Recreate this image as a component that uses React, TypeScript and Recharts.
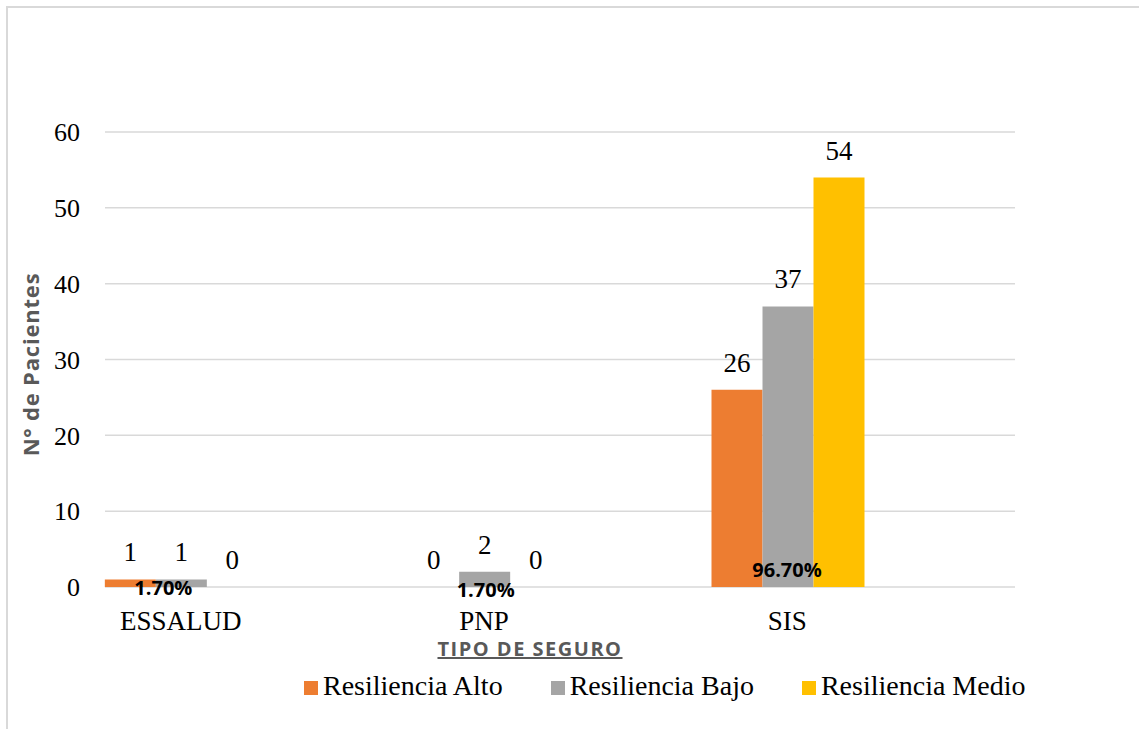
import { BarChart, Bar, XAxis, YAxis, CartesianGrid, Legend, LabelList } from 'recharts'

const categories = ['ESSALUD', 'PNP', 'SIS']
const altoValues = [1, 0, 26]
const bajoValues = [1, 2, 37]
const medioValues = [0, 0, 54]
const pctLabels = ['1.70%', '1.70%', '96.70%']
const yTicks = [0, 10, 20, 30, 40, 50, 60]

const data = categories.map((tipo, i) => ({
  tipo,
  alto: altoValues[i],
  bajo: bajoValues[i],
  medio: medioValues[i],
  pct: pctLabels[i],
}))

const SERIF = '"Liberation Serif", "Times New Roman", serif'
const SANS = '"Open Sans", "Noto Sans", sans-serif'

// nudges for the percentage annotations (per category)
const PCT_DX = [-18, 1, -1]
const PCT_DY = [8, 10, -10]

function PctLabel(props: any) {
  const { value, index } = props
  const vb = props.viewBox ?? props
  const bottom = vb.y + vb.height
  const cx = vb.x - vb.width / 2 + PCT_DX[index]
  return (
    <text x={cx} y={bottom + PCT_DY[index]} textAnchor="middle" fontFamily={SANS} fontWeight={700} fontSize={20} fill="#000">
      {value}
    </text>
  )
}

function LegendContent(props: any) {
  const { payload = [] } = props
  return (
    <div style={{ display: 'flex', alignItems: 'center', fontFamily: SERIF, fontSize: 28, color: '#000', height: 32 }}>
      {payload.map((p: any, i: number) => (
        <span key={p.value} style={{ display: 'flex', alignItems: 'center', marginLeft: i === 0 ? 0 : 48 }}>
          <span style={{ width: 14, height: 14, background: p.color, display: 'inline-block', marginRight: 5, marginTop: 4 }} />
          {p.value}
        </span>
      ))}
    </div>
  )
}

export default function App() {
  return (
    <div style={{ position: 'absolute', left: 0, top: 0, width: 1139, height: 729, overflow: 'hidden', background: '#fff' }}>
      <div style={{ position: 'absolute', left: 6, top: 6, width: 1200, height: 800, border: '2px solid #d9d9d9' }} />
      <div style={{ position: 'absolute', left: 0, top: 0 }}>
        <BarChart
          width={1139}
          height={729}
          data={data}
          margin={{ top: 132, right: 124, left: 0, bottom: 50 }}
          barCategoryGap="25%"
          barGap={0}
        >
          <CartesianGrid vertical={false} stroke="#d9d9d9" strokeWidth={1.5} />
          <YAxis
            width={105}
            domain={[0, 60]}
            ticks={yTicks}
            axisLine={false}
            tickLine={false}
            tickSize={0}
            tickMargin={25}
            tick={{ fontFamily: SERIF, fontSize: 26, fill: '#000' }}
            label={{
              content: ({ viewBox }: any) => (
                <text
                  x={30}
                  y={viewBox.y + viewBox.height / 2 + 5}
                  transform={`rotate(-90, 30, ${viewBox.y + viewBox.height / 2 + 5})`}
                  textAnchor="middle"
                  dominantBaseline="central"
                  fontFamily={SANS}
                  fontWeight={700}
                  fontSize={22}
                  letterSpacing={0.8}
                  fill="#595959"
                >
                  N° de Pacientes
                </text>
              ),
            }}
          />
          <XAxis
            dataKey="tipo"
            height={60}
            padding={{ left: -76, right: 76 }}
            axisLine={false}
            tickLine={false}
            tickSize={0}
            tickMargin={24}
            tick={{ fontFamily: SERIF, fontSize: 27, fill: '#000' }}
            label={{
              content: ({ viewBox }: any) => (
                <text
                  x={530}
                  y={viewBox.y + 69}
                  textAnchor="middle"
                  fontFamily={SANS}
                  fontWeight={700}
                  fontSize={20}
                  letterSpacing={1.5}
                  textDecoration="underline"
                  fill="#595959"
                >
                  TIPO DE SEGURO
                </text>
              ),
            }}
          />
          <Legend
            content={<LegendContent />}
            wrapperStyle={{ left: 304, top: 670, bottom: 'auto', width: 'auto' }}
          />
          <Bar dataKey="alto" name="Resiliencia Alto" fill="#ED7D31" minPointSize={0.01} isAnimationActive={false}>
            <LabelList dataKey="alto" position="top" offset={18} fontFamily={SERIF} fontSize={27} fill="#000" />
          </Bar>
          <Bar dataKey="bajo" name="Resiliencia Bajo" fill="#A5A5A5" minPointSize={0.01} isAnimationActive={false}>
            <LabelList dataKey="bajo" position="top" offset={18} fontFamily={SERIF} fontSize={27} fill="#000" />
          </Bar>
          <Bar dataKey="medio" name="Resiliencia Medio" fill="#FFC000" minPointSize={0.01} isAnimationActive={false}>
            <LabelList dataKey="medio" position="top" offset={18} fontFamily={SERIF} fontSize={27} fill="#000" />
            <LabelList dataKey="pct" content={<PctLabel />} />
          </Bar>
        </BarChart>
      </div>
    </div>
  )
}
